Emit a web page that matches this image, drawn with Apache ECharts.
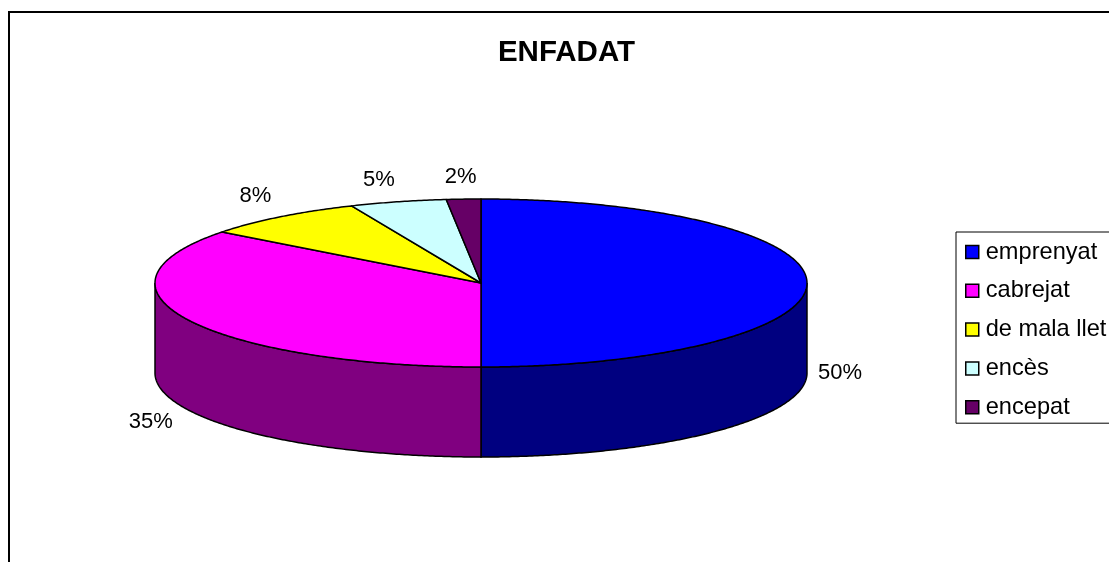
<!DOCTYPE html>
<html>
<head>
<meta charset="utf-8">
<style>html,body{margin:0;padding:0;background:#fff;overflow:hidden}#c{width:1109px;height:562px}</style>
<script src="https://cdn.jsdelivr.net/npm/echarts@6/dist/echarts.min.js"></script>
</head>
<body>
<div id="c"></div>
<script>
const chartTitle = 'ENFADAT';
const categories = ['emprenyat', 'cabrejat', 'de mala llet', 'encès', 'encepat'];
const values = [50, 35.4, 8.1, 4.8, 1.7];
const topColors = ['#0000ff', '#ff00ff', '#ffff00', '#ccffff', '#660066'];
const sideColors = ['#000080', '#800080', '#808000', '#669999', '#330033'];

const geo = { cx: 481, cy: 283, rx: 326, ry: 84, depth: 90 };
const labelFont = '22px "Liberation Sans", Arial, sans-serif';
// label centre offset from the slice's mid-angle rim point
const labelNudge = [[33, 90], [-38, 102], [-25, -21], [-19, -22], [-3, -22]];

const total = values.reduce((a, b) => a + b, 0);
const rimPoint = (deg, dy) => {
  const r = deg * Math.PI / 180;
  return [geo.cx + geo.rx * Math.sin(r), geo.cy - geo.ry * Math.cos(r) + (dy || 0)];
};
const arcPoints = (a, b, dy) => {
  const pts = [];
  const n = Math.max(2, Math.ceil(Math.abs(b - a) * 2));
  for (let i = 0; i <= n; i++) pts.push(rimPoint(a + (b - a) * i / n, dy));
  return pts;
};

function renderSlice(idx) {
  return function (params, api) {
    const value = api.value(0);
    const start = values.slice(0, idx).reduce((a, b) => a + b, 0) / total * 360;
    const end = start + value / total * 360;
    const children = [];
    const s = Math.max(start, 90), e = Math.min(end, 270);
    if (e > s) {
      children.push({
        type: 'polygon', z2: 1,
        shape: { points: arcPoints(s, e, 0).concat(arcPoints(e, s, geo.depth)) },
        style: { fill: sideColors[idx], stroke: '#000', lineWidth: 1.5 }
      });
    }
    children.push({
      type: 'polygon', z2: 2,
      shape: { points: [[geo.cx, geo.cy]].concat(arcPoints(start, end, 0)) },
      style: { fill: topColors[idx], stroke: '#000', lineWidth: 1.5, lineJoin: 'round' }
    });
    const rim = rimPoint((start + end) / 2);
    children.push({
      type: 'text', z2: 3,
      style: {
        text: Math.round(value / total * 100) + '%',
        x: rim[0] + labelNudge[idx][0],
        y: rim[1] + labelNudge[idx][1],
        align: 'center', verticalAlign: 'middle',
        font: labelFont, fill: '#000'
      }
    });
    return { type: 'group', children };
  };
}

const chart = echarts.init(document.getElementById('c'), null, { renderer: 'canvas' });
chart.setOption({
  animation: false,
  backgroundColor: '#fff',
  title: {
    text: chartTitle, left: 561.5, top: 33, textAlign: 'center',
    textStyle: { fontFamily: '"Liberation Sans", Arial, sans-serif', fontWeight: 'bold', fontSize: 29.5, color: '#000', align: 'center' }
  },
  legend: {
    orient: 'vertical', left: 956, top: 232,
    padding: [8, 12, 4, 9],
    itemWidth: 13, itemHeight: 13, itemGap: 14.8, selectedMode: false,
    backgroundColor: '#fff', borderColor: '#000', borderWidth: 1,
    icon: 'rect',
    itemStyle: { borderColor: '#000', borderWidth: 1.5 },
    textStyle: { fontFamily: '"Liberation Sans", Arial, sans-serif', fontSize: 23.6, color: '#000', padding: [0, 0, 0, 2] },
    data: categories
  },
  graphic: [
    { type: 'polyline', z: 0, shape: { points: [[9, 562], [9, 12], [1109, 12]] }, style: { fill: null, stroke: '#000', lineWidth: 2 } }
  ],
  series: categories.map((name, i) => ({
    type: 'custom', name, coordinateSystem: 'none', z: 2 + i,
    itemStyle: { color: topColors[i] },
    renderItem: renderSlice(i),
    data: [[values[i]]]
  }))
});
</script>
</body>
</html>
